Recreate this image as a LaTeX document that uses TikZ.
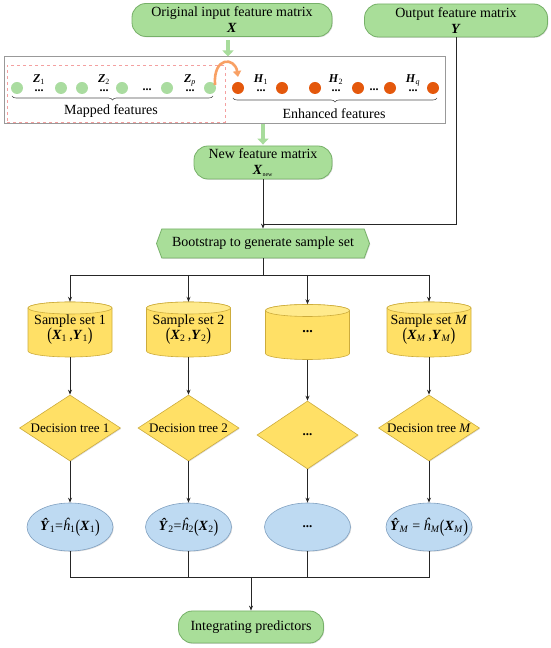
\documentclass[tikz,border=0pt]{standalone}
\usepackage{fontspec}
\setmainfont{Liberation Serif}
\usepackage{graphicx}
\usetikzlibrary{shapes.geometric,shapes.symbols,arrows.meta,decorations.pathreplacing,shadows,calc}

\definecolor{gfill}{RGB}{169,222,153}
\definecolor{gdraw}{RGB}{118,176,104}
\definecolor{garr}{RGB}{168,220,156}
\definecolor{gdot}{RGB}{170,220,160}
\definecolor{odot}{RGB}{228,88,12}
\definecolor{oarr}{RGB}{248,160,100}
\definecolor{pinkd}{RGB}{244,160,160}
\definecolor{yfill}{RGB}{255,224,102}
\definecolor{ytop}{RGB}{255,234,140}
\definecolor{ydraw}{RGB}{205,172,60}
\definecolor{bfill}{RGB}{190,218,242}
\definecolor{bdraw}{RGB}{128,160,192}

\newcommand\bi[1]{\textbf{\textit{#1}}}
\newcommand\sbs[1]{\textsubscript{#1}}
\newcommand\lpar{\raisebox{-0.12em}{\scalebox{1}[1.3]{(}}}
\newcommand\rpar{\raisebox{-0.12em}{\scalebox{1}[1.3]{)}}}
\newcommand\stk[1]{#1\\[-4pt]\textbf{...}}
\newcommand\cylshape[2]{%
  \filldraw[fill=yfill, draw=ydraw, line width=0.6pt]
    (#1-42,#2+21.5) -- (#1-42,#2-21.5)
    arc[start angle=180,end angle=360,x radius=42,y radius=6]
    -- (#1+42,#2+21.5)
    arc[start angle=0,end angle=180,x radius=42,y radius=6] -- cycle;
  \filldraw[fill=ytop, draw=ydraw, line width=0.6pt] (#1,#2+21.5) ellipse[x radius=42,y radius=6];
}

\begin{document}
\begin{tikzpicture}[x=1pt,y=1pt,
  font=\fontsize{14}{16}\selectfont,
  shad/.style={drop shadow={shadow xshift=0.8pt,shadow yshift=-0.8pt,opacity=0.3,fill=black!45}},
  greenbox/.style={draw=gdraw, fill=gfill, rounded corners=14pt, minimum width=#1,
    minimum height=33pt, inner sep=0pt, align=center, line width=0.8pt, shad},
  conn/.style={line width=0.8pt, draw=black!85},
  arr/.style={conn, -{Stealth[length=5pt,width=4pt]}},
  garrow/.style={draw=garr, line width=4pt, -{Triangle[length=6pt,width=11pt]}},
  gd/.style={circle, fill=gdot, minimum size=12pt, inner sep=0pt},
  od/.style={circle, fill=odot, minimum size=12pt, inner sep=0pt},
  lab/.style={font=\fontsize{12}{13}\selectfont, align=center, inner sep=0pt},
  ldots/.style={font=\fontsize{12}{13}\selectfont\bfseries, anchor=base, inner sep=0pt},
  ybox/.style={diamond, draw=ydraw, fill=yfill, line width=0.6pt, minimum width=101pt,
    minimum height=66pt, inner sep=0pt, shad},
  bell/.style={ellipse, draw=bdraw, fill=bfill, line width=0.6pt, minimum width=86pt,
    minimum height=48pt, inner sep=0pt, shad},
  cylnode/.style={rectangle, minimum width=84pt, minimum height=55pt, inner sep=0pt, align=center}
]
\useasboundingbox (0,0) rectangle (550,648);

% top boxes
\node[greenbox=200pt] (orig) at (232,628) {Original input feature matrix\\\bi{X}};
\node[greenbox=183pt] (out) at (456,627.5) {Output feature matrix\\\bi{Y}};

% feature strip
\node[draw=black!40, line width=1pt, minimum width=441pt, minimum height=67pt, inner sep=0pt] (strip) at (224.5,557.5) {};
\node[draw=pinkd, dashed, line width=0.9pt, minimum width=218pt, minimum height=57pt, inner sep=0pt] (mapbox) at (116,554.5) {};

\foreach \n/\x in {1/17,2/61,3/82,4/122,5/167,6/210}
  \node[gd] (g\n) at (\x,560) {};
\foreach \n/\x in {1/238,2/282,3/315,4/358,5/390,6/433}
  \node[od] (o\n) at (\x,560) {};

\node[lab] (z1) at (39,565) {\stk{\bi{Z}\sbs{1}}};
\node[lab] (z2) at (104,565) {\stk{\bi{Z}\sbs{2}}};
\node[ldots] (gdots) at (147,557) {...};
\node[lab] (zp) at (190,565) {\stk{\bi{Z}\sbs{\textit{p}}}};

\node[lab] (h1) at (261,565) {\stk{\bi{H}\sbs{1}}};
\node[lab] (h2) at (336,565) {\stk{\bi{H}\sbs{2}}};
\node[ldots] (odots) at (374,557) {...};
\node[lab] (hq) at (413,565) {\stk{\bi{H}\sbs{\textit{q}}}};

\draw[line width=0.6pt, draw=black!70, decorate, decoration={brace, mirror, amplitude=4pt}] (12,552) -- (213,552);
\draw[line width=0.6pt, draw=black!70, decorate, decoration={brace, mirror, amplitude=4pt}] (233,550) -- (437,550);
\node (mapl) at (111,537) {Mapped features};
\node (enhl) at (334,534) {Enhanced features};

\draw[line width=2.6pt, draw=oarr, -{Triangle[length=6pt,width=8pt]}] (215,563) .. controls (213,592) and (235,591) .. (238,571);

% green arrows
\coordinate (ga1) at ([xshift=-4pt,yshift=-3pt]orig.south);
\draw[garrow] (ga1) -- (ga1 |- strip.north);

\node[greenbox=138pt] (newf) at (263,485.5) {New feature matrix\\\bi{X}\sbs{\fontsize{6}{6}\selectfont new}};
\draw[garrow] (newf.north |- strip.south) -- ([yshift=1pt]newf.north);

% bootstrap
\node[signal, signal to=west and east, signal pointer angle=140, draw=gdraw, fill=gfill,
  line width=0.8pt, minimum width=213pt, minimum height=29pt, inner sep=0pt, shad] (boot) at (263,404.5) {Bootstrap to generate sample set};

\coordinate (join) at (263,424);
\draw[conn] (out.south) |- (join);
\draw[arr] (newf.south) -- (boot.north);

% cylinders
\cylshape{70}{318.5}
\cylshape{188.5}{318.5}
\cylshape{307.5}{316}
\cylshape{429}{318.5}
\node[cylnode] (c1) at (70,318.5) {Sample set 1\\[-1pt]\lpar\bi{X}\sbs{1}\,,\bi{Y}\sbs{1}\rpar};
\node[cylnode] (c2) at (188.5,318.5) {Sample set 2\\[-1pt]\lpar\bi{X}\sbs{2}\,,\bi{Y}\sbs{2}\rpar};
\node[cylnode] (c3) at (307.5,316) {\textbf{...}};
\node[cylnode] (c4) at (429,318.5) {Sample set \textit{M}\\[-1pt]\lpar\bi{X}\sbs{\textit{M}}\,,\bi{Y}\sbs{\textit{M}}\rpar};

\coordinate (tb) at (263,373);
\draw[conn] (boot.south) -- (tb);
\draw[conn] (c1.north |- tb) -- (c4.north |- tb);
\foreach \c in {c1,c2,c3,c4}
  \draw[arr] (\c.north |- tb) -- (\c.north);

% diamonds
\node[ybox, label={[font=\fontsize{13}{14}\selectfont]center:Decision tree 1}] (d1) at (70,220) {};
\node[ybox, label={[font=\fontsize{13}{14}\selectfont]center:Decision tree 2}] (d2) at (188.5,220) {};
\node[ybox, minimum height=68pt, label={[font=\fontsize{13}{14}\selectfont\bfseries]center:...}] (d3) at (307.5,213) {};
\node[ybox, label={[font=\fontsize{13}{14}\selectfont]center:Decision tree \textit{M}}] (d4) at (429,220) {};

\foreach \i in {1,2,3,4}
  \draw[arr] (c\i.south) -- (d\i.north);

% ellipses
\node[bell, label={center:\bi{\^Y}\sbs{1}=\textit{\^h}\sbs{1}\lpar\bi{X}\sbs{1}\rpar}] (e1) at (70,121) {};
\node[bell, label={center:\bi{\^Y}\sbs{2}=\textit{\^h}\sbs{2}\lpar\bi{X}\sbs{2}\rpar}] (e2) at (188.5,121) {};
\node[bell, label={[font=\fontsize{13}{14}\selectfont\bfseries]center:...}] (e3) at (307.5,121) {};
\node[bell, label={center:\bi{\^Y}\sbs{\textit{M}} = \textit{\^h}\sbs{\textit{M}}\lpar\bi{X}\sbs{\textit{M}}\rpar}] (e4) at (429,121) {};

\foreach \i in {1,2,3,4}
  \draw[arr] (d\i.south) -- (e\i.north);

% merge
\node[greenbox=145pt, minimum height=32pt] (integ) at (251,21) {Integrating predictors};
\coordinate (bb) at (251,71);
\draw[conn] (e1.south) -- (e1.south |- bb) -- (e4.south |- bb) -- (e4.south);
\draw[conn] (e2.south) -- (e2.south |- bb);
\draw[conn] (e3.south) -- (e3.south |- bb);
\draw[arr] (bb) -- (integ.north);
\end{tikzpicture}
\end{document}
